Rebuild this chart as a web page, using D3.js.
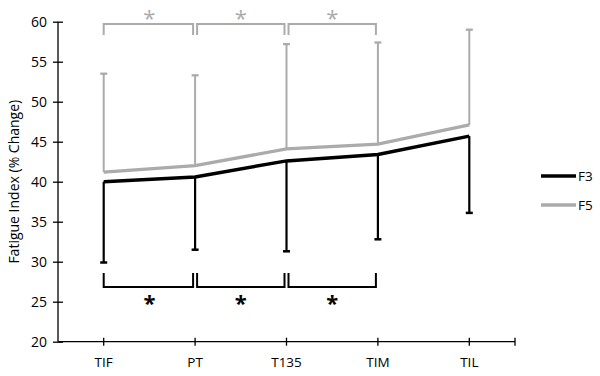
<!DOCTYPE html>
<html><head><meta charset="utf-8">
<script src="https://cdn.jsdelivr.net/npm/d3@7"></script>
<style>body{margin:0;background:#fff}svg{display:block}</style>
</head><body>
<svg id="c" width="600" height="376"></svg>
<script>
const categories = ["TIF","PT","T135","TIM","TIL"];
const f3Values = [40.0, 40.6, 42.6, 43.4, 45.7];
const f3Lower = [29.9, 31.5, 31.3, 32.8, 36.1];
const f5Values = [41.2, 42.0, 44.1, 44.7, 47.1];
const f5Upper = [53.5, 53.3, 57.2, 57.4, 59.0];
const yTicks = [20,25,30,35,40,45,50,55,60];
const topBrackets = [["TIF","PT"],["PT","T135"],["T135","TIM"]];
const bottomBrackets = [["TIF","PT"],["PT","T135"],["T135","TIM"]];
const seriesNames = ["F3","F5"];

const BLACK = "#000", GRAY = "#ababab";
const font = "'Open Sans', sans-serif";
const svg = d3.select("#c");
const x = d3.scaleBand().domain(categories).range([58, 515]);
const cx = c => x(c) + x.bandwidth()/2;
const y = d3.scaleLinear().domain([20, 60]).range([341.7, 21.7]);

// Y axis
const ya = svg.append("g").attr("transform","translate(58,0)")
  .call(d3.axisLeft(y).tickValues(yTicks).tickSize(5).tickPadding(4));
ya.select(".domain").attr("stroke",BLACK).attr("stroke-width",1.3).attr("d",`M0,${y(60)}V${y(20)}`);
ya.selectAll(".tick line").attr("stroke",BLACK).attr("stroke-width",1.3).attr("x1",-5).attr("x2",5);
ya.selectAll("text").attr("font-family",font).attr("font-size",14).attr("fill","#000").attr("x",-11);

// X axis
const xa = svg.append("g").attr("transform",`translate(0,${y(20)})`)
  .call(d3.axisBottom(x).tickSize(0).tickPadding(0));
xa.select(".domain").attr("stroke",BLACK).attr("stroke-width",1.3).attr("d","M58,0H515");
xa.selectAll(".tick line").attr("stroke",BLACK).attr("stroke-width",1.3).attr("y1",-4).attr("y2",4);
xa.selectAll(".tick").attr("transform",d=>`translate(${cx(d)},0)`);
xa.selectAll("text").attr("font-family",font).attr("font-size",13.5).attr("fill","#000").attr("dy",0).attr("y",25);
xa.append("line").attr("x1",515).attr("x2",515).attr("y1",-4).attr("y2",4).attr("stroke",BLACK).attr("stroke-width",1.3);

// Y label
svg.append("text").attr("transform",`translate(19,${(y(20)+y(60))/2}) rotate(-90)`)
  .attr("text-anchor","middle").attr("font-family",font).attr("font-size",14).attr("fill","#000")
  .text("Fatigue Index (% Change)");

// Error bars
function errBars(vals, ends, color, w){
  const g = svg.append("g");
  categories.forEach((c,i)=>{
    g.append("line").attr("x1",cx(c)).attr("x2",cx(c)).attr("y1",y(vals[i])).attr("y2",y(ends[i]))
      .attr("stroke",color).attr("stroke-width",w);
    g.append("line").attr("x1",cx(c)-3.5).attr("x2",cx(c)+3.5).attr("y1",y(ends[i])).attr("y2",y(ends[i]))
      .attr("stroke",color).attr("stroke-width",w+0.3);
  });
}
errBars(f5Values, f5Upper, GRAY, 2);
errBars(f3Values, f3Lower, BLACK, 2.2);

// Lines
const line = d3.line().x((d,i)=>cx(categories[i])).y(d=>y(d));
svg.append("path").datum(f5Values).attr("d",line).attr("fill","none").attr("stroke",GRAY).attr("stroke-width",3.3);
svg.append("path").datum(f3Values).attr("d",line).attr("fill","none").attr("stroke",BLACK).attr("stroke-width",3.5);

// Brackets
function brackets(list, yH, yEnd, color, starY, bold, size){
  list.forEach(([a,b])=>{
    const x1 = cx(a) + (a===categories[0]?0:2), x2 = cx(b) - 2;
    svg.append("path").attr("d",`M${x1},${yEnd}V${yH}H${x2}V${yEnd}`)
      .attr("fill","none").attr("stroke",color).attr("stroke-width",2);
    svg.append("text").attr("x",(cx(a)+cx(b))/2).attr("y",starY).attr("text-anchor","middle")
      .attr("font-family",font).attr("font-size",size).attr("font-weight",bold?"bold":"normal")
      .attr("fill",color).text("*");
  });
}
brackets(topBrackets, 24, 35, GRAY, 25.5, false, 22);
brackets(bottomBrackets, 287, 273, BLACK, 311, true, 22);

// Legend
const leg = svg.append("g");
[[BLACK,176],[GRAY,205]].forEach(([col,ly],i)=>{
  leg.append("line").attr("x1",541).attr("x2",576).attr("y1",ly).attr("y2",ly).attr("stroke",col).attr("stroke-width",3.3);
  leg.append("text").attr("x",578).attr("y",ly+5).attr("font-family",font).attr("font-size",13.5).attr("fill","#000").text(seriesNames[i]);
});
</script>
</body></html>
